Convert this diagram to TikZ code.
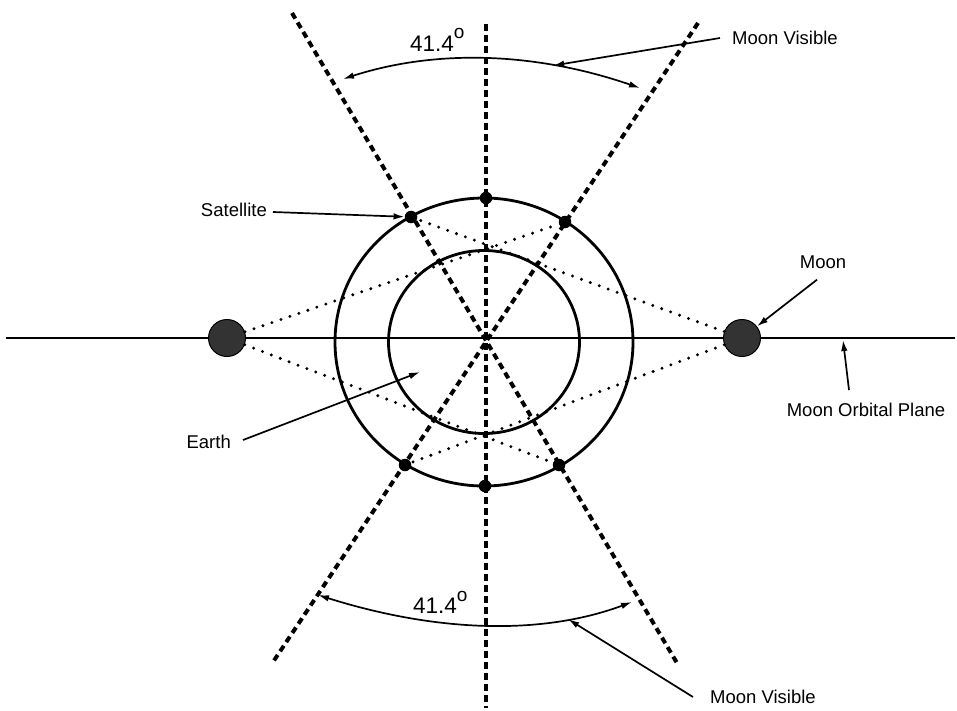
\documentclass[tikz,border=0pt]{standalone}
\usepackage{fontspec}
\setmainfont{Liberation Sans}
\usetikzlibrary{arrows.meta}

\begin{document}
\begin{tikzpicture}[x=1pt,y=-1pt,
  lbl/.style={font=\fontsize{18.5}{21}\selectfont,inner sep=2pt},
  anglbl/.style={font=\fontsize{22.5}{24}\selectfont,inner sep=0pt,anchor=base west},
  viewline/.style={line width=4pt,dash pattern=on 6.5pt off 4.5pt},
  sight/.style={line width=3.3pt,line cap=round,dash pattern=on 0pt off 9.5pt},
  orbit/.style={line width=2.8pt},
  sat/.style={circle,fill=black,inner sep=0pt,minimum size=12.5pt},
  moon/.style={circle,draw=black,line width=1pt,fill=black!80,inner sep=0pt,minimum size=37pt},
  pointer/.style={line width=1.7pt,-{Latex[length=11pt,width=6.5pt]}},
  sweep/.style={line width=1.7pt,{Latex[length=11pt,width=6.5pt]}-{Latex[length=11pt,width=6.5pt]}}]
  \useasboundingbox[fill=white] (0,0) rectangle (957,710);
  % earth centre and the three view lines
  \coordinate (earth) at (484,342);
  \coordinate (vtop) at (486,24);
  \coordinate (vbot) at (486,708);
  \coordinate (ulft) at (292,13);
  \coordinate (lrgt) at (677,663);
  \coordinate (urgt) at (698,23);
  \coordinate (llft) at (273,662);
  \draw[viewline] (vtop) -- (vbot);
  \draw[viewline] (ulft) -- (lrgt);
  \draw[viewline] (urgt) -- (llft);
  % moon orbital plane
  \coordinate (planeL) at (6,338);
  \coordinate (planeR) at (955,338);
  \draw[line width=1.5pt] (planeL) -- (planeR);
  % earth and satellite orbit
  \draw[orbit] (earth) ellipse [x radius=95.5pt,y radius=91.5pt];
  \draw[orbit] (earth) ellipse [x radius=149pt,y radius=144pt];
  % satellites
  \node[sat] (satT) at (486,198) {};
  \node[sat] (satUL) at (411,217) {};
  \node[sat] (satUR) at (565,222) {};
  \node[sat] (satLL) at (405,465) {};
  \node[sat] (satLR) at (559,465) {};
  \node[sat] (satB) at (485,486) {};
  % moons
  \node[moon] (moonL) at (227,338) {};
  \node[moon] (moonR) at (742,338) {};
  % lines of sight
  \draw[sight] (moonL) -- (satUR);
  \draw[sight] (moonL) -- (satLR);
  \draw[sight] (moonR) -- (satUL);
  \draw[sight] (moonR) -- (satLL);
  % visibility angles
  \coordinate (arcTL) at (343,79);
  \coordinate (arcTR) at (640,88);
  \coordinate (arcBL) at (318,595);
  \coordinate (arcBR) at (632,602);
  \draw[sweep] (arcTL) .. controls (436,49) and (535,52) .. (arcTR) coordinate[pos=0.72] (vistop);
  \draw[sweep] (arcBL) .. controls (439,633) and (543,635) .. (arcBR) coordinate[pos=0.77] (visbot);
  \node[anglbl] (degtop) at (410,51) {41.4\raisebox{13pt}{\fontsize{19}{19}\selectfont o}};
  \node[anglbl] (degbot) at (413,613) {41.4\raisebox{12pt}{\fontsize{19}{19}\selectfont o}};
  % labels
  \node[lbl,anchor=west] (vistxtT) at (730,38) {Moon Visible};
  \node[lbl,anchor=west] (vistxtB) at (708,697) {Moon Visible};
  \node[lbl,anchor=east] (sattxt) at (269,210) {Satellite};
  \node[lbl,anchor=east] (earthtxt) at (233,442) {Earth};
  \node[lbl] (moontxt) at (823,262) {Moon};
  \node[lbl] (planetxt) at (866,410) {Moon Orbital Plane};
  \coordinate (earthpt) at (420,372);
  \coordinate (planept) at (843,340);
  \draw[pointer] ([xshift=-10pt]vistxtT.west) -- (vistop);
  \draw[pointer] ([xshift=-15pt]vistxtB.west) -- (visbot);
  \draw[pointer] ([xshift=4pt,yshift=-2pt]sattxt.east) -- (satUL);
  \draw[pointer] ([xshift=10pt,yshift=2pt]earthtxt.east) -- (earthpt);
  \draw[pointer] ([xshift=-6pt,yshift=-9pt]moontxt.south) -- (moonR);
  \draw[pointer] ([xshift=-17pt,yshift=11pt]planetxt.north) -- (planept);
\end{tikzpicture}
\end{document}
